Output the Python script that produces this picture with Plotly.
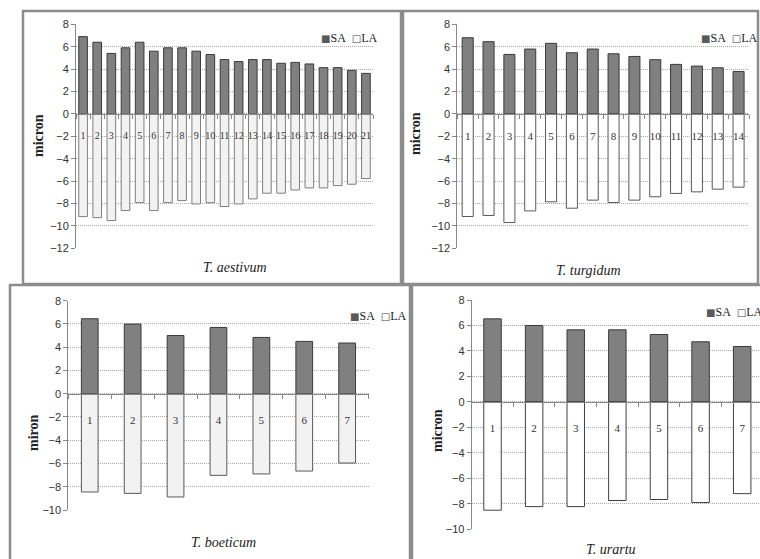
import plotly.graph_objects as go

W, H = 760, 559

# ---------------- data ----------------
cats_aestivum = [str(i) for i in range(1, 22)]
sa_aestivum = [6.9, 6.4, 5.4, 5.9, 6.4, 5.6, 5.9, 5.9, 5.6, 5.3, 4.85, 4.67, 4.85, 4.85,
               4.52, 4.6, 4.46, 4.13, 4.13, 3.89, 3.62]
la_aestivum = [-9.17, -9.26, -9.52, -8.63, -7.92, -8.63, -7.92, -7.74, -8.04, -7.92, -8.27,
               -8.04, -7.59, -7.08, -7.08, -6.79, -6.61, -6.61, -6.4, -6.28, -5.77]

cats_turgidum = [str(i) for i in range(1, 15)]
sa_turgidum = [6.8, 6.45, 5.31, 5.79, 6.3, 5.46, 5.79, 5.37, 5.13, 4.84, 4.42, 4.27, 4.12, 3.79]
la_turgidum = [-9.16, -9.07, -9.7, -8.66, -7.85, -8.42, -7.7, -7.91, -7.7, -7.4, -7.1, -6.96,
               -6.72, -6.54]

cats_boeticum = [str(i) for i in range(1, 8)]
sa_boeticum = [6.45, 5.99, 5.01, 5.7, 4.84, 4.5, 4.36]
la_boeticum = [-8.45, -8.57, -8.88, -7.02, -6.9, -6.65, -5.96]

cats_urartu = [str(i) for i in range(1, 8)]
sa_urartu = [6.52, 6.0, 5.66, 5.66, 5.29, 4.72, 4.35]
la_urartu = [-8.5, -8.22, -8.22, -7.74, -7.66, -7.9, -7.2]

series_names = ["SA", "LA"]
y_titles = ["micron", "micron", "miron", "micron"]
x_titles = ["T. aestivum", "T. turgidum", "T. boeticum", "T. urartu"]
y_ranges = [(-12, 8), (-12, 8), (-10, 8), (-10, 8)]

# ---------------- layout / style (pixels) ----------------
panels = [
    dict(cats=cats_aestivum, sa=sa_aestivum, la=la_aestivum,
         plot=(76, 373, 24.3, 248.3), border=(23, 401, 11, 284),
         width=0.61, la_fill="#f2f2f2", la_line="#7f7f7f", standoff=12, catsize=10,
         legend_xy=(319, 38), ytitle_xy=(38, 136), xtitle_xy=(235, 267)),
    dict(cats=cats_turgidum, sa=sa_turgidum, la=la_turgidum,
         plot=(457.3, 749, 24.3, 248.3), border=(403, 758, 11, 284),
         width=0.53, la_fill="#ffffff", la_line="#595959", standoff=12, catsize=11,
         legend_xy=(699, 38), ytitle_xy=(415, 134), xtitle_xy=(588, 270)),
    dict(cats=cats_boeticum, sa=sa_boeticum, la=la_boeticum,
         plot=(68.3, 368.6, 300.7, 510), border=(10, 410, 285, 580),
         width=0.39, la_fill="#f2f2f2", la_line="#595959", standoff=16, catsize=11,
         legend_xy=(348, 316), ytitle_xy=(33, 433), xtitle_xy=(223, 542)),
    dict(cats=cats_urartu, sa=sa_urartu, la=la_urartu,
         plot=(471.7, 763, 300, 529.3), border=(412, 790, 285, 580),
         width=0.42, la_fill="#ffffff", la_line="#404040", standoff=16, catsize=11,
         legend_xy=(704, 312), ytitle_xy=(437, 430), xtitle_xy=(611, 549)),
]

SERIF = "Liberation Serif"
SANS = "Liberation Sans"
GLYPH = "font-family:'DejaVu Sans';font-size:10px"

fig = go.Figure()
annotations = []
shapes = []
layout = dict(width=W, height=H, margin=dict(l=0, r=0, t=0, b=0, autoexpand=False),
              paper_bgcolor="white", plot_bgcolor="white", barmode="relative",
              showlegend=False)

for i, p in enumerate(panels, 1):
    sfx = "" if i == 1 else str(i)
    xl, xr, yt, yb = p["plot"]
    ymin, ymax = y_ranges[i - 1]
    n = len(p["cats"])
    right_px = min(xr, W)
    xdom = [xl / W, right_px / W]
    ydom = [1 - yb / H, 1 - yt / H]
    zero_pos = ydom[0] + (0 - ymin) / (ymax - ymin) * (ydom[1] - ydom[0])
    xend = -0.5 + n * (right_px - xl) / (xr - xl)

    fig.add_trace(go.Bar(
        x=p["cats"], y=p["sa"], name=series_names[0], xaxis="x" + sfx, yaxis="y" + sfx,
        width=p["width"],
        marker=dict(color="#808080", line=dict(color="#3a3a3a", width=1))))
    fig.add_trace(go.Bar(
        x=p["cats"], y=p["la"], name=series_names[1], xaxis="x" + sfx, yaxis="y" + sfx,
        width=p["width"],
        marker=dict(color=p["la_fill"], line=dict(color=p["la_line"], width=1))))

    layout["xaxis" + sfx] = dict(
        domain=xdom, anchor="free", position=zero_pos, type="category",
        range=[-0.5, xend], tickson="boundaries", ticks="outside", ticklen=4,
        tickcolor="#888888", showline=True, linecolor="#888888", linewidth=1,
        showgrid=False, zeroline=False, ticklabelstandoff=p["standoff"], tickangle=0,
        tickfont=dict(family=SERIF, size=p["catsize"], color="#333333"), fixedrange=True)
    layout["yaxis" + sfx] = dict(
        domain=ydom, anchor="x" + sfx, range=[ymin, ymax], dtick=2,
        showline=True, linecolor="#888888", linewidth=1, ticks="outside", ticklen=4,
        tickcolor="#888888", showgrid=True, gridcolor="#a8a8a8", griddash="1px,1px",
        gridwidth=1, zeroline=False, tickfont=dict(family=SANS, size=11, color="#333333"),
        fixedrange=True)

    # legend-like key: ■SA □LA
    lx, ly = p["legend_xy"]
    annotations.append(dict(
        xref="paper", yref="paper", x=lx / W, y=1 - ly / H, xanchor="left", yanchor="middle",
        showarrow=False,
        text=("<span style=\"color:#5a5a5a;%s\">■</span>%s&nbsp;&nbsp;"
              "<span style=\"color:#444444;%s\">□</span>%s") % (GLYPH, series_names[0],
                                                                GLYPH, series_names[1]),
        font=dict(family=SERIF, size=12, color="#222222")))

    bx0, bx1, by0, by1 = p["border"]
    shapes.append(dict(type="rect", xref="paper", yref="paper",
                       x0=bx0 / W, x1=bx1 / W, y0=1 - by1 / H, y1=1 - by0 / H,
                       line=dict(color="#8c8c8c", width=2.5), layer="below"))

    tx, ty = p["ytitle_xy"]
    annotations.append(dict(xref="paper", yref="paper", x=tx / W, y=1 - ty / H,
                            text="<b>%s</b>" % y_titles[i - 1], textangle=-90,
                            showarrow=False, xanchor="center", yanchor="middle",
                            font=dict(family=SERIF, size=14, color="#222222")))
    tx, ty = p["xtitle_xy"]
    annotations.append(dict(xref="paper", yref="paper", x=tx / W, y=1 - ty / H,
                            text="<i>%s</i>" % x_titles[i - 1], showarrow=False,
                            xanchor="center", yanchor="middle",
                            font=dict(family=SERIF, size=14, color="#222222")))

layout["annotations"] = annotations
layout["shapes"] = shapes
fig.update_layout(**layout)
fig.write_html("out.html", config={"displayModeBar": False},
               post_script="document.body.style.margin='0';document.body.style.overflow='hidden';")
